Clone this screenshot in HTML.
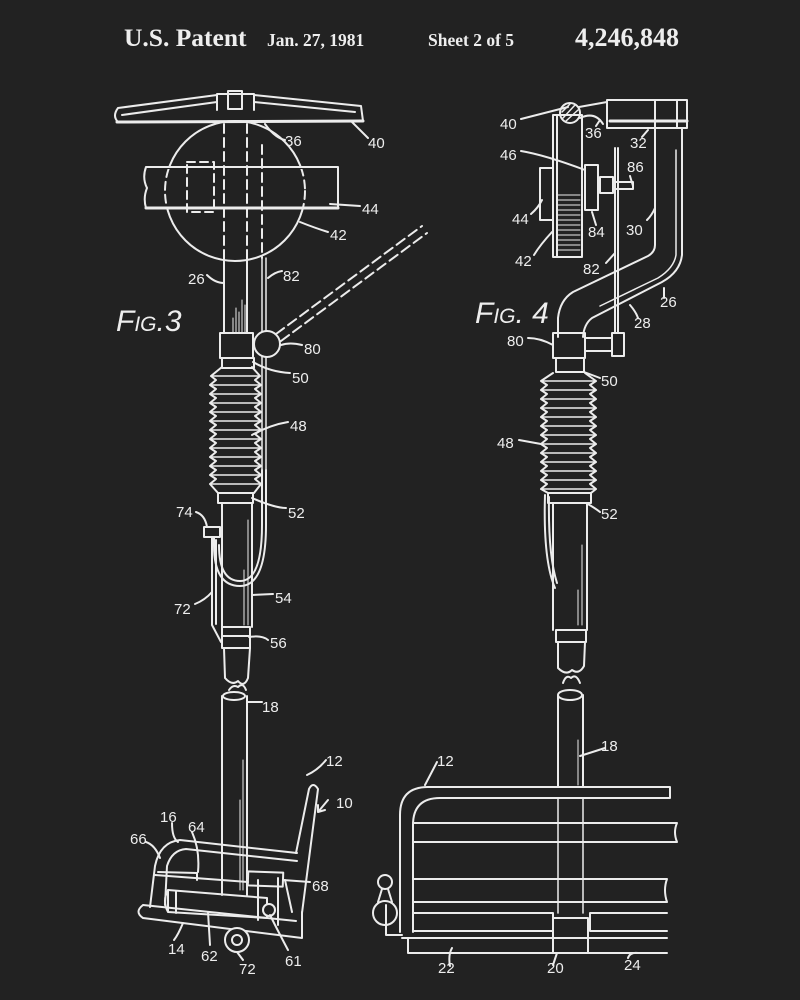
<!DOCTYPE html>
<html><head><meta charset="utf-8"><style>
html,body{margin:0;padding:0;background:#222;}
svg{display:block}
text{fill:#eee;font-family:"Liberation Sans",sans-serif;font-size:15px}
.h{font-family:"Liberation Serif",serif;font-weight:bold}
</style></head><body>
<svg width="800" height="1000" viewBox="0 0 800 1000" xmlns="http://www.w3.org/2000/svg">
<defs>
<clipPath id="band"><rect x="145" y="169" width="194" height="38"/></clipPath>
</defs>
<rect width="800" height="1000" fill="#222"/>
<!-- header -->
<text class="h" x="124" y="46" style="font-size:25.5px">U.S. Patent</text>
<text class="h" x="267" y="46" style="font-size:17.5px">Jan. 27, 1981</text>
<text class="h" x="428" y="46" style="font-size:17.5px">Sheet 2 of 5</text>
<text class="h" x="575" y="46" style="font-size:26px">4,246,848</text>

<g fill="none" stroke="#ececec" stroke-width="2" stroke-linecap="round" stroke-linejoin="round">
<!-- ============ FIG 3 ============ -->
<path d="M118,108 L217,95 M254,95 L361,106 M117,122 L363,121 M118,108 Q112,116 118,122 M361,106 L363,121 M122,115 L217,102 M254,102 L355,112"/>
<path d="M117,122 L363,121" stroke-width="3"/>
<path d="M217,94 L217,110 M254,94 L254,110 M217,94 L254,94"/>
<rect x="228" y="91" width="14" height="18"/>
<circle cx="235" cy="191" r="70"/>
<rect x="146" y="167" width="192" height="41" fill="#222" stroke="none"/>
<circle cx="235" cy="191" r="70" stroke-dasharray="8 5" clip-path="url(#band)"/>
<path d="M146,167 L338,167 L338,208 L146,208 M146,167 Q142,178 147,188 Q143,198 146,208"/>
<path d="M146,208 L338,208" stroke-width="3"/>
<rect x="187" y="162" width="27" height="50" stroke-dasharray="8 5"/>
<path d="M224,124 L224,260 M247,124 L247,260 M262,145 L262,258" stroke-dasharray="9 5"/>
<path d="M224,261 L224,333 M247,261 L247,333"/>
<path d="M262,258 L262,470 M266,258 L266,470" stroke-width="1.5"/>
<path d="M233,318 L233,333 M236,308 L236,333 M239,312 L239,333 M242,300 L242,333 M245,305 L245,333" stroke-width="1"/>
<rect x="220" y="333" width="33" height="25" fill="#222"/>
<circle cx="267" cy="344" r="13" fill="#222"/>
<path d="M276,334 L422,226 M281,341 L427,233" stroke-dasharray="10 5"/>
<rect x="222" y="358" width="32" height="10"/>
<path d="M222,367 L211,376 l5,4 l-6,5 l6,4 l-6,5 l6,4 l-6,5 l6,4 l-6,5 l6,4 l-6,5 l6,4 l-6,5 l6,4 l-6,5 l6,4 l-6,5 l6,4 l-6,5 l6,4 l-6,5 l6,4 l-6,5 l6,4 l-6,5 L218,493"/>
<path d="M252,367 L260,376 l-5,4 l6,5 l-6,4 l6,5 l-6,4 l6,5 l-6,4 l6,5 l-6,4 l6,5 l-6,4 l6,5 l-6,4 l6,5 l-6,4 l6,5 l-6,4 l6,5 l-6,4 l6,5 l-6,4 l6,5 l-6,4 l6,5 L254,493"/>
<path d="M211,376 H260 M211,385 H261 M211,394 H261 M211,403 H261 M211,412 H261 M211,421 H261 M211,430 H261 M211,439 H261 M211,448 H261 M211,457 H261 M211,466 H261 M211,475 H261 M211,484 H261" stroke-width="1.5"/>
<rect x="218" y="493" width="35" height="10"/>
<path d="M222,503 L222,627 M252,503 L252,627"/>
<path d="M248,520 L248,625 M244,570 L244,625" stroke-width="1"/>
<path d="M266,470 L266,525 Q266,586 240,586 Q214,586 214,545 L214,537 M262,470 L262,525 Q262,581 240,581 Q219,581 219,545"/>
<rect x="204" y="527" width="16" height="10"/>
<path d="M212,537 L212,625 L221,642 M216,540 L216,624"/>
<rect x="222" y="627" width="28" height="21"/>
<path d="M222,636 L250,636"/>
<path d="M224,648 L225,678 Q232,686 238,681 Q244,688 248,678 L250,648"/>
<path d="M229,690 Q233,684 238,687 Q243,682 246,690"/>
<ellipse cx="234" cy="696" rx="11" ry="4"/>
<path d="M222,696 L222,895 M247,696 L247,895"/>
<path d="M243,760 L243,890 M240,800 L240,890" stroke-width="1"/>
<path d="M150,907 L155,866 Q160,842 180,840 L297,853"/>
<path d="M165,905 L167,866 Q172,850 186,849 L297,861"/>
<path d="M296,853 L309,789 Q313,781 318,789 L302,913"/>
<path d="M155,875 L248,882 M158,872 L197,873 L197,880"/>
<rect x="248" y="872" width="35" height="14" transform="rotate(2 265 879)"/>
<path d="M143,905 Q134,912 143,918 L302,938 L302,912 M143,905 L296,921"/>
<path d="M168,890 L267,898 L267,918 L168,912 Z M168,890 Q162,901 168,912 M176,891 L176,913"/>
<circle cx="237" cy="940" r="12" fill="#222"/>
<circle cx="237" cy="940" r="5"/>
<circle cx="269" cy="910" r="6" fill="#222"/>
<path d="M258,880 L258,920 M278,878 L278,925 M285,880 L292,912"/>
<!-- ============ FIG 4 ============ -->
<circle cx="570" cy="113" r="10"/>
<path d="M563,118 L575,105 M566,121 L578,110 M562,112 L570,104" stroke-width="1.5"/>
<path d="M579,107 L607,102 M580,118 Q595,111 603,124"/>
<rect x="607" y="100" width="80" height="28"/>
<path d="M610,121 L687,121" stroke-width="3"/>
<path d="M655,100 L655,128 M677,100 L677,128"/>
<rect x="553" y="115" width="29" height="142"/>
<path d="M557,115 L557,257"/>
<path d="M558,195 H580 M558,200 H580 M558,205 H580 M558,210 H580 M558,215 H580 M558,220 H580 M558,225 H580 M558,230 H580 M558,235 H580 M558,240 H580 M558,245 H580 M558,250 H580" stroke-width="1"/>
<rect x="540" y="168" width="13" height="52"/>
<rect x="585" y="165" width="13" height="45"/>
<rect x="600" y="177" width="13" height="16"/>
<path d="M613,182 L633,182 L633,189 L613,189"/>
<path d="M615,148 L615,333 M618,148 L618,333"/>
<rect x="612" y="333" width="12" height="23"/>
<path d="M655,128 L655,245 Q655,252 648,256 L573,292 Q560,300 558,318 L558,337"/>
<path d="M682,128 L682,255 Q680,272 662,282 L592,318 Q584,324 583,337"/>
<path d="M676,150 L676,255 Q674,268 658,278 L600,306" stroke-width="1.5"/>
<rect x="553" y="333" width="32" height="25"/>
<path d="M585,338 L612,338 M585,351 L612,351"/>
<rect x="556" y="358" width="28" height="14"/>
<path d="M553,373 L541,381 l6,4 l-6,5 l6,4 l-6,5 l6,4 l-6,5 l6,4 l-6,5 l6,4 l-6,5 l6,4 l-6,5 l6,4 l-6,5 l6,4 l-6,5 l6,4 l-6,5 l6,4 l-6,5 l6,4 l-6,5 l6,4 l-6,5 L548,493"/>
<path d="M585,373 L596,381 l-6,4 l6,5 l-6,4 l6,5 l-6,4 l6,5 l-6,4 l6,5 l-6,4 l6,5 l-6,4 l6,5 l-6,4 l6,5 l-6,4 l6,5 l-6,4 l6,5 l-6,4 l6,5 l-6,4 l6,5 l-6,4 l6,5 L591,493"/>
<path d="M541,381 H596 M541,390 H596 M541,399 H596 M541,408 H596 M541,417 H596 M541,426 H596 M541,435 H596 M541,444 H596 M541,453 H596 M541,462 H596 M541,471 H596 M541,480 H596 M541,489 H596" stroke-width="1.5"/>
<rect x="548" y="493" width="43" height="10"/>
<path d="M553,503 L553,630 M587,503 L587,630"/>
<path d="M582,545 L582,625 M578,590 L578,625" stroke-width="1"/>
<path d="M545,495 Q543,560 555,588 M549,497 Q548,555 557,583"/>
<rect x="556" y="630" width="30" height="12"/>
<path d="M558,642 L558,668 Q566,676 572,670 Q579,675 584,666 L585,642"/>
<path d="M563,683 Q566,674 571,678 Q576,673 580,683"/>
<ellipse cx="570" cy="695" rx="12" ry="5"/>
<path d="M558,695 L558,787 M583,695 L583,787"/>
<path d="M558,798 L558,913 M583,798 L583,913" stroke-width="1.5"/>
<path d="M578,740 L578,785" stroke-width="1"/>
<path d="M400,932 L400,815 Q400,787 428,787 L670,787 L670,798 M413,932 L413,825 Q413,798 440,798 L670,798"/>
<path d="M413,823 L677,823 Q673,832 677,842 L413,842"/>
<path d="M413,879 L667,879 Q663,890 667,902 L413,902"/>
<path d="M413,913 L553,913 L553,931 L413,931 M590,913 L667,913 M590,913 L590,931 L667,931"/>
<path d="M553,918 L588,918 M553,918 L553,953 M588,918 L588,953"/>
<path d="M402,938 L667,938 M408,938 L408,953 L667,953"/>
<circle cx="385" cy="913" r="12" fill="#222"/>
<circle cx="385" cy="882" r="7"/>
<path d="M382,889 L378,902 M388,889 L392,902 M386,905 L386,935 L402,935"/>
<!-- leaders fig3 -->
<path d="M265,124 Q275,138 285,140 M352,122 Q362,132 368,138 M330,204 L360,206 M300,222 Q315,228 328,232 M207,275 Q215,283 224,283 M268,278 Q275,272 282,271 M281,345 Q290,342 302,345 M253,362 Q270,372 290,373 M252,435 Q270,425 288,422 M252,498 Q275,508 286,508 M196,512 Q205,515 207,527 M195,604 Q205,600 212,592 M252,595 L273,594 M249,637 Q262,635 268,640 M248,702 L262,702 M307,775 Q318,770 326,760 M328,800 L318,812 M318,812 L318,805 M318,812 L325,810 M172,823 Q172,838 178,842 M192,832 Q200,850 198,872 M146,842 Q155,845 160,858 M283,880 L310,882 M183,923 Q178,935 174,940 M208,912 L210,945 M237,952 L243,960 M270,915 Q280,935 288,950"/>
<!-- leaders fig4 -->
<path d="M521,119 L568,107 M600,120 L596,126 M648,130 L642,137 M521,151 Q545,155 585,170 M630,176 L633,186 M531,214 Q538,208 542,200 M592,212 L596,225 M647,220 Q652,215 655,208 M534,255 Q540,245 552,232 M606,263 L615,253 M664,288 L664,298 M630,305 Q636,312 638,318 M528,338 Q540,338 553,345 M584,372 Q592,375 600,378 M519,440 L541,444 M586,503 Q595,508 600,512 M605,748 L580,756 M437,762 L425,785 M450,966 Q448,955 452,948 M553,965 L557,953 M628,958 Q630,952 638,953"/>
</g>
<!-- labels fig3 -->
<text x="285" y="146">36</text>
<text x="368" y="148">40</text>
<text x="362" y="214">44</text>
<text x="330" y="240">42</text>
<text x="188" y="284">26</text>
<text x="283" y="281">82</text>
<text x="304" y="354">80</text>
<text x="292" y="383">50</text>
<text x="290" y="431">48</text>
<text x="288" y="518">52</text>
<text x="176" y="517">74</text>
<text x="275" y="603">54</text>
<text x="174" y="614">72</text>
<text x="270" y="648">56</text>
<text x="262" y="712">18</text>
<text x="326" y="766">12</text>
<text x="336" y="808">10</text>
<text x="160" y="822">16</text>
<text x="188" y="832">64</text>
<text x="130" y="844">66</text>
<text x="312" y="891">68</text>
<text x="168" y="954">14</text>
<text x="201" y="961">62</text>
<text x="239" y="974">72</text>
<text x="285" y="966">61</text>
<text x="116" y="331" style="font-size:30px;font-style:italic">F<tspan style="font-size:21px">IG</tspan>.3</text>
<!-- labels fig4 -->
<text x="500" y="129">40</text>
<text x="585" y="138">36</text>
<text x="630" y="148">32</text>
<text x="500" y="160">46</text>
<text x="627" y="172">86</text>
<text x="512" y="224">44</text>
<text x="588" y="237">84</text>
<text x="626" y="235">30</text>
<text x="515" y="266">42</text>
<text x="583" y="274">82</text>
<text x="660" y="307">26</text>
<text x="634" y="328">28</text>
<text x="475" y="323" style="font-size:30px;font-style:italic">F<tspan style="font-size:21px">IG</tspan>. 4</text>
<text x="507" y="346">80</text>
<text x="601" y="386">50</text>
<text x="497" y="448">48</text>
<text x="601" y="519">52</text>
<text x="437" y="766">12</text>
<text x="601" y="751">18</text>
<text x="438" y="973">22</text>
<text x="547" y="973">20</text>
<text x="624" y="970">24</text>
</svg>
</body></html>
